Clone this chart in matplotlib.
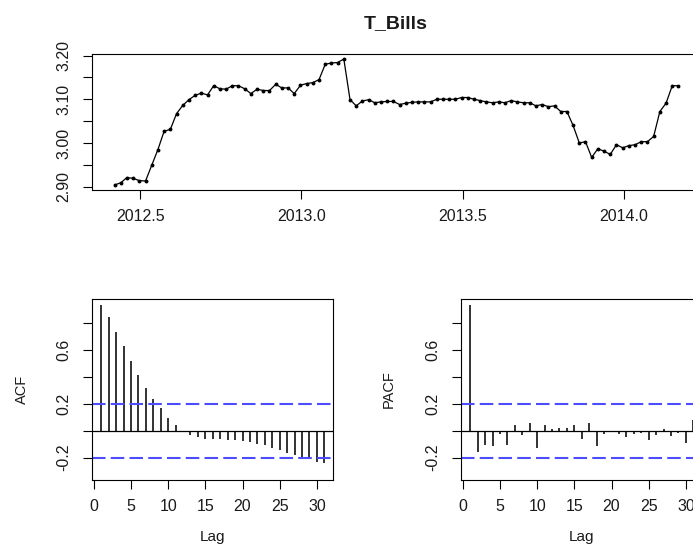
import numpy as np
import matplotlib
matplotlib.use("Agg")
import matplotlib.pyplot as plt

plt.rcParams['font.family'] = ['Liberation Sans', 'DejaVu Sans']

# ---------------- data ----------------
title = "T_Bills"
start_year = 2012.42
frequency = 52  # weekly observations

tbills = [2.904, 2.909, 2.921, 2.919, 2.914, 2.913, 2.949, 2.985, 3.027, 3.031,
          3.067, 3.086, 3.099, 3.109, 3.114,
          3.110, 3.131, 3.124, 3.123, 3.131, 3.131, 3.124, 3.113, 3.123, 3.120,
          3.120, 3.134, 3.126, 3.126, 3.113, 3.132,
          3.136, 3.138, 3.145, 3.180, 3.183, 3.184, 3.192, 3.099, 3.085, 3.096,
          3.099, 3.092, 3.094, 3.095, 3.095,
          3.088, 3.091, 3.093, 3.094, 3.094, 3.094, 3.100, 3.100, 3.100, 3.100,
          3.104, 3.104, 3.100, 3.097, 3.094, 3.092, 3.094, 3.092, 3.097, 3.094,
          3.092, 3.092, 3.085, 3.088, 3.083, 3.085, 3.072, 3.072, 3.040, 3.000,
          3.003, 2.967, 2.987, 2.981, 2.974, 2.996, 2.989, 2.994, 2.996, 3.003,
          3.003, 3.015, 3.072, 3.091, 3.131, 3.131]

lags = list(range(1, 32))
acf_vals = [0.931, 0.840, 0.731, 0.625, 0.516, 0.410, 0.316, 0.235, 0.166, 0.096,
            0.040, -0.003, -0.034, -0.049, -0.059, -0.062, -0.062, -0.067, -0.071, -0.074,
            -0.081, -0.096, -0.108, -0.126, -0.141, -0.165, -0.178, -0.193, -0.210, -0.230,
            -0.237]
pacf_vals = [0.931, -0.155, -0.108, -0.116, -0.025, -0.108, 0.042, -0.032, 0.054, -0.131,
             0.040, 0.010, 0.017, 0.017, 0.040, -0.064, 0.054, -0.113, -0.027, -0.007,
             -0.027, -0.049, -0.027, -0.015, -0.071, -0.035, 0.010, -0.039, -0.015, -0.089,
             0.079]
conf_limit = 0.2

top_xticks = [2012.5, 2013.0, 2013.5, 2014.0]
top_yticks = [2.90, 2.95, 3.00, 3.05, 3.10, 3.15, 3.20]
top_ylabels = ["2.90", "", "3.00", "", "3.10", "", "3.20"]
cor_yticks = [-0.2, 0.0, 0.2, 0.4, 0.6, 0.8]
cor_ylabels = ["-0.2", "", "0.2", "", "0.6", ""]
lag_ticks = [0, 5, 10, 15, 20, 25, 30]

# ---------------- figure ----------------
W, H = 693, 544
fig = plt.figure(figsize=(W / 100, H / 100), dpi=100)


def px_axes(x0, y0, x1, y1):
    return fig.add_axes([x0 / W, 1 - y1 / H, (x1 - x0) / W, (y1 - y0) / H])


FS = 11.5
TICK_LEN = 6.5
TXT = '#1a1a1a'


def style(ax):
    for s in ax.spines.values():
        s.set_color('black')
        s.set_linewidth(0.8)
    ax.tick_params(direction='out', length=TICK_LEN, width=0.8, color='black',
                   labelsize=FS, labelcolor=TXT, pad=7)
    ax.tick_params(axis='y', pad=8.5)


# top: time series
ax1 = px_axes(92, 54, 701, 190)
t = start_year + np.arange(len(tbills)) / frequency
ax1.plot(t, tbills, color='black', lw=0.9, marker='o', markersize=1.8)
ax1.margins(x=0.04, y=0.04)
ax1.set_xticks(top_xticks)
ax1.set_xticklabels([f"{v:.1f}" for v in top_xticks])
ax1.set_yticks(top_yticks)
ax1.set_yticklabels(top_ylabels, rotation=90, va='center')
style(ax1)

ylim_cor = (-0.365, 0.976)


def corplot(ax, vals):
    ax.vlines(lags, 0, vals, color='#222222', lw=1.3)
    ax.axhline(0, color='black', lw=0.9)
    for c in (conf_limit, -conf_limit):
        ax.axhline(c, color='#4d4dff', lw=1.5, dashes=(6.5, 2.5))
    ax.margins(x=0.04)
    ax.set_ylim(*ylim_cor)
    ax.set_xticks(lag_ticks)
    ax.set_xticklabels([str(v) for v in lag_ticks])
    ax.set_yticks(cor_yticks)
    ax.set_yticklabels(cor_ylabels, rotation=90, va='center')
    style(ax)


ax2 = px_axes(92.3, 299, 333.3, 480)
corplot(ax2, acf_vals)
ax3 = px_axes(461.3, 299, 702.3, 480)
corplot(ax3, pacf_vals)

# texts
fig.text(396 / W, 1 - 28 / H, title, ha='center', va='baseline',
         fontsize=14, fontweight='bold', color=TXT)
fig.text(22 / W, 1 - 389.5 / H, "ACF", rotation=90, ha='center', va='center',
         fontsize=10.5, color=TXT)
fig.text(389 / W, 1 - 389.5 / H, "PACF", rotation=90, ha='center', va='center',
         fontsize=10.5, color=TXT)
fig.text(212.8 / W, 1 - 540.5 / H, "Lag", ha='center', va='baseline', fontsize=11, color=TXT)
fig.text(581 / W, 1 - 540.5 / H, "Lag", ha='center', va='baseline', fontsize=11, color=TXT)

fig.savefig("out.png", dpi=100)
